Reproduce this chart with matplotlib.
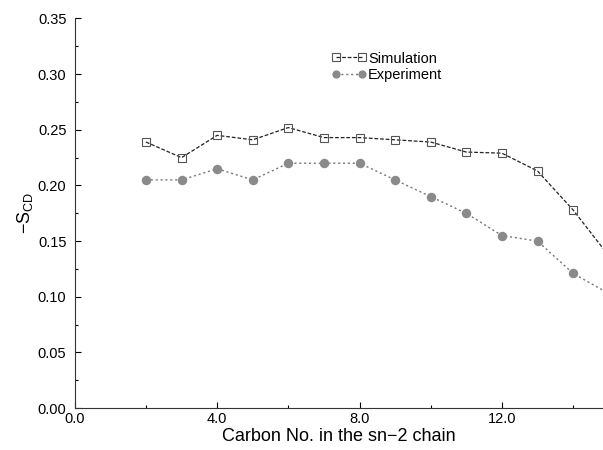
import numpy as np
import matplotlib.pyplot as plt
from matplotlib.ticker import MultipleLocator, FormatStrFormatter

plt.rcParams['font.family'] = ['Liberation Sans', 'DejaVu Sans']
plt.rcParams['mathtext.default'] = 'regular'

#%% data
carbon = [2, 3, 4, 5, 6, 7, 8, 9, 10, 11, 12, 13, 14, 15]
sim_scd = [0.239, 0.225, 0.245, 0.241, 0.252, 0.243, 0.243, 0.241, 0.239,
           0.230, 0.229, 0.213, 0.178, 0.137]
exp_scd = [0.205, 0.205, 0.215, 0.205, 0.220, 0.220, 0.220, 0.205, 0.190,
           0.175, 0.155, 0.150, 0.121, 0.103]

#%% plot
fig = plt.figure(figsize=(6.03, 4.5), dpi=100)
ax = fig.add_axes([0.124, 0.093, 0.876, 0.866])

ax.plot(carbon, sim_scd, color='#222222', ls=(0, (3, 1.5)), lw=0.9,
        marker='s', ms=6.2, mfc='none', mec='#555555', mew=0.8,
        label='Simulation')
ax.plot(carbon, exp_scd, color='#777777', ls=(0, (1.5, 2)), lw=1.0,
        marker='o', ms=5.8, mfc='#8a8a8a', mec='#8a8a8a',
        label='Experiment')

ax.set_xlim(0, 14.84)
ax.set_ylim(0, 0.35)
ax.xaxis.set_major_locator(MultipleLocator(4))
ax.xaxis.set_minor_locator(MultipleLocator(2))
ax.yaxis.set_major_locator(MultipleLocator(0.05))
ax.yaxis.set_minor_locator(MultipleLocator(0.025))
ax.xaxis.set_major_formatter(FormatStrFormatter('%.1f'))
ax.yaxis.set_major_formatter(FormatStrFormatter('%.2f'))
ax.tick_params(which='both', direction='in', labelsize=10.5)
ax.tick_params(which='major', length=4, width=0.8)
ax.tick_params(which='minor', length=2, width=0.8)
ax.tick_params(axis='y', pad=6)
ax.tick_params(axis='x', pad=3)

ax.spines['top'].set_visible(False)
ax.spines['right'].set_visible(False)
ax.spines['left'].set_color('#333333')
ax.spines['bottom'].set_color('#333333')

ax.set_xlabel('Carbon No. in the sn\u22122 chain', fontsize=13, labelpad=1)
ax.set_ylabel('\u2212S$_{CD}$', fontsize=13, labelpad=2)

ax.legend(loc='upper left', bbox_to_anchor=(0.475, 0.93), frameon=False,
          numpoints=2, fontsize=10.5, handlelength=2.4, handletextpad=0.1,
          labelspacing=0.15, borderaxespad=0, markerscale=0.85)

fig.savefig('out.png', dpi=100)
